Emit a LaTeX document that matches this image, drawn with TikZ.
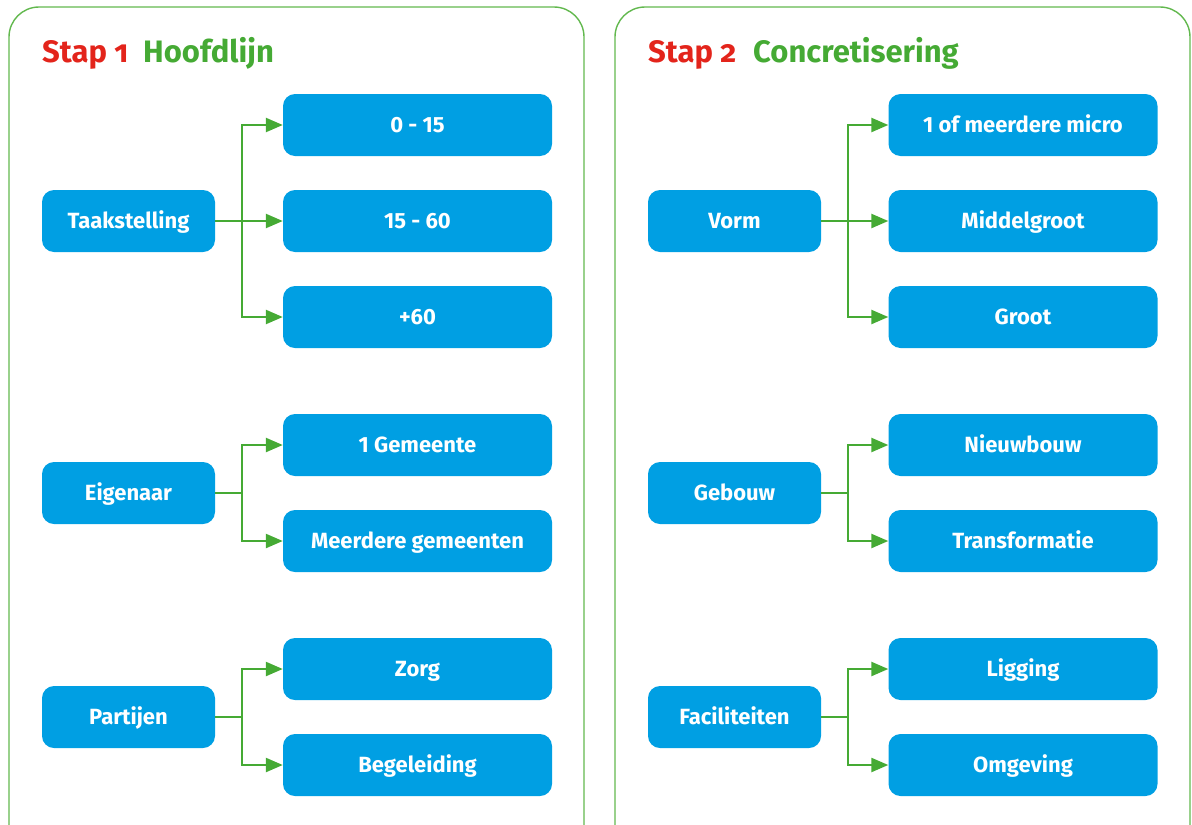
\documentclass[tikz,border=0pt]{standalone}
\usepackage{fontspec}
\setmainfont{Fira Sans}
\newfontfamily\titlefont[Numbers=OldStyle]{Fira Sans}
\usetikzlibrary{arrows.meta}
\definecolor{boxblue}{HTML}{009FE3}
\definecolor{stapred}{HTML}{E3241B}
\definecolor{stepgreen}{HTML}{45AA34}
\definecolor{panelgreen}{HTML}{62B84E}
\tikzset{
  panel/.style={draw=panelgreen,line width=1.4pt,rounded corners=30pt},
  box/.style={fill=boxblue,rounded corners=12pt,text=white,font=\bfseries\fontsize{22}{26}\selectfont,minimum height=62pt,inner sep=0pt,text height=15.2pt,text depth=0pt},
  rootbox/.style={box,minimum width=173pt},
  leafbox/.style={box,minimum width=269pt},
  conn/.style={draw=stepgreen,line width=2.4pt,-{Triangle[length=17pt,width=14pt]}},
  stapt/.style={anchor=base west,text=stapred,font=\titlefont\bfseries\fontsize{31}{36}\selectfont,inner sep=0pt},
  headt/.style={anchor=base west,text=stepgreen,font=\titlefont\bfseries\fontsize{31}{36}\selectfont,inner sep=0pt}
}
\begin{document}
\begin{tikzpicture}[x=1pt,y=-1pt]
\useasboundingbox (0,0) rectangle (1192,825);
\clip (0,0) rectangle (1192,825);
\draw[panel] (9,7) rectangle (584,870);
\draw[panel] (615,7) rectangle (1190,870);
\node[stapt] (s1) at (42,62) {Stap 1};
\node[headt] (h1) at (143,62) {Hoofdlijn};
\node[stapt] (s2) at (648,62) {Stap 2};
\node[headt] (h2) at (753,62) {Concretisering};
% left panel
\node[rootbox] (t) at (128.5,221) {Taakstelling};
\node[rootbox] (e) at (128.5,493) {Eigenaar};
\node[rootbox] (p) at (128.5,717) {Partijen};
\node[leafbox] (t1) at (417.5,125) {0 - 15};
\node[leafbox] (t2) at (417.5,221) {15 - 60};
\node[leafbox] (t3) at (417.5,317) {+60};
\node[leafbox] (e1) at (417.5,445) {1 Gemeente};
\node[leafbox] (e2) at (417.5,541) {Meerdere gemeenten};
\node[leafbox] (p1) at (417.5,669) {Zorg};
\node[leafbox] (p2) at (417.5,765) {Begeleiding};
\foreach \r/\l in {t/t1,t/t2,t/t3,e/e1,e/e2,p/p1,p/p2}
  \draw[conn] (\r.east) -- ++(27,0) |- (\l.west);
% right panel
\node[rootbox] (v) at (734.5,221) {Vorm};
\node[rootbox] (g) at (734.5,493) {Gebouw};
\node[rootbox] (f) at (734.5,717) {Faciliteiten};
\node[leafbox] (v1) at (1023,125) {1 of meerdere micro};
\node[leafbox] (v2) at (1023,221) {Middelgroot};
\node[leafbox] (v3) at (1023,317) {Groot};
\node[leafbox] (g1) at (1023,445) {Nieuwbouw};
\node[leafbox] (g2) at (1023,541) {Transformatie};
\node[leafbox] (f1) at (1023,669) {Ligging};
\node[leafbox] (f2) at (1023,765) {Omgeving};
\foreach \r/\l in {v/v1,v/v2,v/v3,g/g1,g/g2,f/f1,f/f2}
  \draw[conn] (\r.east) -- ++(27,0) |- (\l.west);
\end{tikzpicture}
\end{document}
